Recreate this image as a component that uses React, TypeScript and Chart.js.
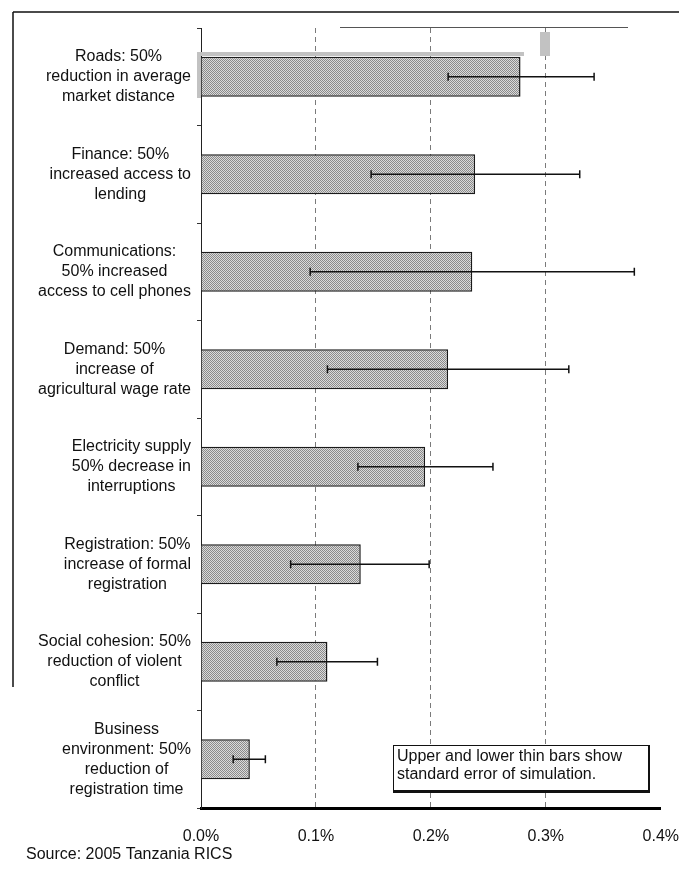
import React, { useEffect, useRef } from "react";
import { Chart, registerables } from "chart.js";

Chart.register(...registerables);

const categoryLines: string[][] = [
  ["Roads: 50%", "reduction in average", "market distance"],
  ["Finance: 50%", "increased access to", "lending"],
  ["Communications:", "50% increased", "access to cell phones"],
  ["Demand: 50%", "increase of", "agricultural wage rate"],
  ["Electricity supply", "50% decrease in", "interruptions"],
  ["Registration: 50%", "increase of formal", "registration"],
  ["Social cohesion: 50%", "reduction of violent", "conflict"],
  ["Business", "environment: 50%", "reduction of", "registration time"],
];
const impactValues = [0.278, 0.2385, 0.236, 0.215, 0.195, 0.139, 0.11, 0.0425];
const errorLow = [0.215, 0.148, 0.095, 0.11, 0.1365, 0.078, 0.066, 0.028];
const errorHigh = [0.342, 0.3295, 0.377, 0.32, 0.254, 0.1985, 0.1535, 0.056];
const xTicks = [0, 0.1, 0.2, 0.3, 0.4];
const noteLines = ["Upper and lower thin bars show", "standard error of simulation."];
const sourceText = "Source: 2005 Tanzania RICS";

const FONT_FAMILY = '"Liberation Sans", Arial, sans-serif';
const W = 671;
const H = 864;

function makePattern(): CanvasPattern | string {
  const c = document.createElement("canvas");
  c.width = 2;
  c.height = 2;
  const g = c.getContext("2d");
  if (!g) return "#b4b4b4";
  g.fillStyle = "#dadada";
  g.fillRect(0, 0, 2, 2);
  g.fillStyle = "#8a8a8a";
  g.fillRect(0, 0, 1, 1);
  g.fillRect(1, 1, 1, 1);
  const p = g.createPattern(c, "repeat");
  return p || "#b4b4b4";
}

const decorPlugin = {
  id: "decor",
  afterDatasetsDraw(chart: any) {
    const { ctx, scales } = chart;
    const x = scales.x;
    const y = scales.y;
    ctx.save();
    ctx.strokeStyle = "#111";
    ctx.lineWidth = 1.5;
    impactValues.forEach((_, i) => {
      const cy = y.getPixelForValue(i);
      const x1 = x.getPixelForValue(errorLow[i]);
      const x2 = x.getPixelForValue(errorHigh[i]);
      ctx.beginPath();
      ctx.moveTo(x1, cy);
      ctx.lineTo(x2, cy);
      ctx.moveTo(x1, cy - 4);
      ctx.lineTo(x1, cy + 4);
      ctx.moveTo(x2, cy - 4);
      ctx.lineTo(x2, cy + 4);
      ctx.stroke();
    });
    ctx.restore();
  },
  afterDraw(chart: any) {
    const { ctx, scales, chartArea } = chart;
    const y = scales.y;
    ctx.save();
    // category labels: lines centred on each other, block right-aligned
    ctx.font = `16px ${FONT_FAMILY}`;
    ctx.fillStyle = "#111";
    ctx.textAlign = "center";
    ctx.textBaseline = "middle";
    const rightEdge = chartArea.left - 10;
    const lh = 20;
    categoryLines.forEach((lines, i) => {
      const cy = y.getPixelForValue(i);
      const widest = Math.max(...lines.map((l) => ctx.measureText(l).width));
      const cx = rightEdge - widest / 2;
      lines.forEach((l, j) => {
        ctx.fillText(l, cx, cy + (j - (lines.length - 1) / 2) * lh);
      });
    });

    // note box
    const bx = chartArea.left + 192;
    const by = chartArea.bottom - 63;
    const bw = 255;
    const bh = 45;
    ctx.fillStyle = "#fff";
    ctx.fillRect(bx, by, bw, bh);
    ctx.strokeStyle = "#111";
    ctx.lineWidth = 1;
    ctx.strokeRect(bx + 0.5, by + 0.5, bw, bh);
    ctx.lineWidth = 2;
    ctx.beginPath();
    ctx.moveTo(bx + bw + 1, by);
    ctx.lineTo(bx + bw + 1, by + bh + 2);
    ctx.lineTo(bx, by + bh + 2);
    ctx.stroke();
    ctx.fillStyle = "#111";
    ctx.textAlign = "left";
    ctx.textBaseline = "middle";
    noteLines.forEach((l, j) => ctx.fillText(l, bx + 4, by + 12 + j * 18));

    // source
    ctx.fillText(sourceText, 18, 847);

    // scan frame
    ctx.strokeStyle = "#111";
    ctx.lineWidth = 1.5;
    ctx.beginPath();
    ctx.moveTo(5, 4);
    ctx.lineTo(W, 4);
    ctx.moveTo(5, 4);
    ctx.lineTo(5, 679);
    ctx.stroke();
    ctx.lineWidth = 1;
    ctx.strokeStyle = "#555";
    ctx.beginPath();
    ctx.moveTo(332, 19.5);
    ctx.lineTo(620, 19.5);
    ctx.stroke();
    ctx.fillStyle = "#c2c2c2";
    ctx.fillRect(189, 44, 327, 4);
    ctx.fillRect(189, 44, 4, 46);
    ctx.fillRect(532, 24, 10, 24);
    ctx.restore();
  },
};

export default function App() {
  const ref = useRef<HTMLCanvasElement | null>(null);
  useEffect(() => {
    if (!ref.current) return;
    const pattern = makePattern();
    const chart = new Chart(ref.current, {
      type: "bar",
      data: {
        labels: categoryLines.map((l) => l.join(" ")),
        datasets: [
          {
            data: impactValues,
            backgroundColor: pattern as any,
            borderColor: "#1a1a1a",
            borderWidth: 1.5,
            categoryPercentage: 0.41,
            barPercentage: 1,
          },
        ],
      },
      options: {
        indexAxis: "y",
        responsive: false,
        animation: false,
        layout: { padding: { top: 20, right: 0, left: 0, bottom: 24 } },
        plugins: { legend: { display: false }, tooltip: { enabled: false } },
        scales: {
          x: {
            type: "linear",
            min: 0,
            max: 0.4,
            afterBuildTicks: (s: any) => {
              s.ticks = xTicks.map((v) => ({ value: v }));
            },
            ticks: {
              font: { family: FONT_FAMILY, size: 16 },
              color: "#111",
              padding: 0,
              maxRotation: 0,
              callback: (v: any) => Number(v).toFixed(1) + "%",
            },
            grid: {
              color: (c: any) =>
                c.tick && (c.tick.value === 0 || c.tick.value >= 0.4) ? "rgba(0,0,0,0)" : "#7a7a7a",
              lineWidth: 1,
              drawTicks: true,
              tickLength: 19,
              tickColor: "rgba(0,0,0,0)",
            },
            border: { display: true, color: "#000", width: 3, dash: [5, 4] },
            afterFit: (s: any) => {
              s.height = 40;
            },
          },
          y: {
            ticks: { display: false },
            grid: {
              drawOnChartArea: false,
              drawTicks: true,
              tickLength: 4,
              color: "#333",
              offset: true,
            },
            border: { display: true, color: "#222", width: 1 },
            afterFit: (s: any) => {
              s.width = 193;
            },
          },
        },
      },
      plugins: [decorPlugin],
    });
    return () => chart.destroy();
  }, []);
  return (
    <div style={{ width: W, height: H }}>
      <canvas ref={ref} width={W} height={H} style={{ display: "block", width: W, height: H }} />
    </div>
  );
}
